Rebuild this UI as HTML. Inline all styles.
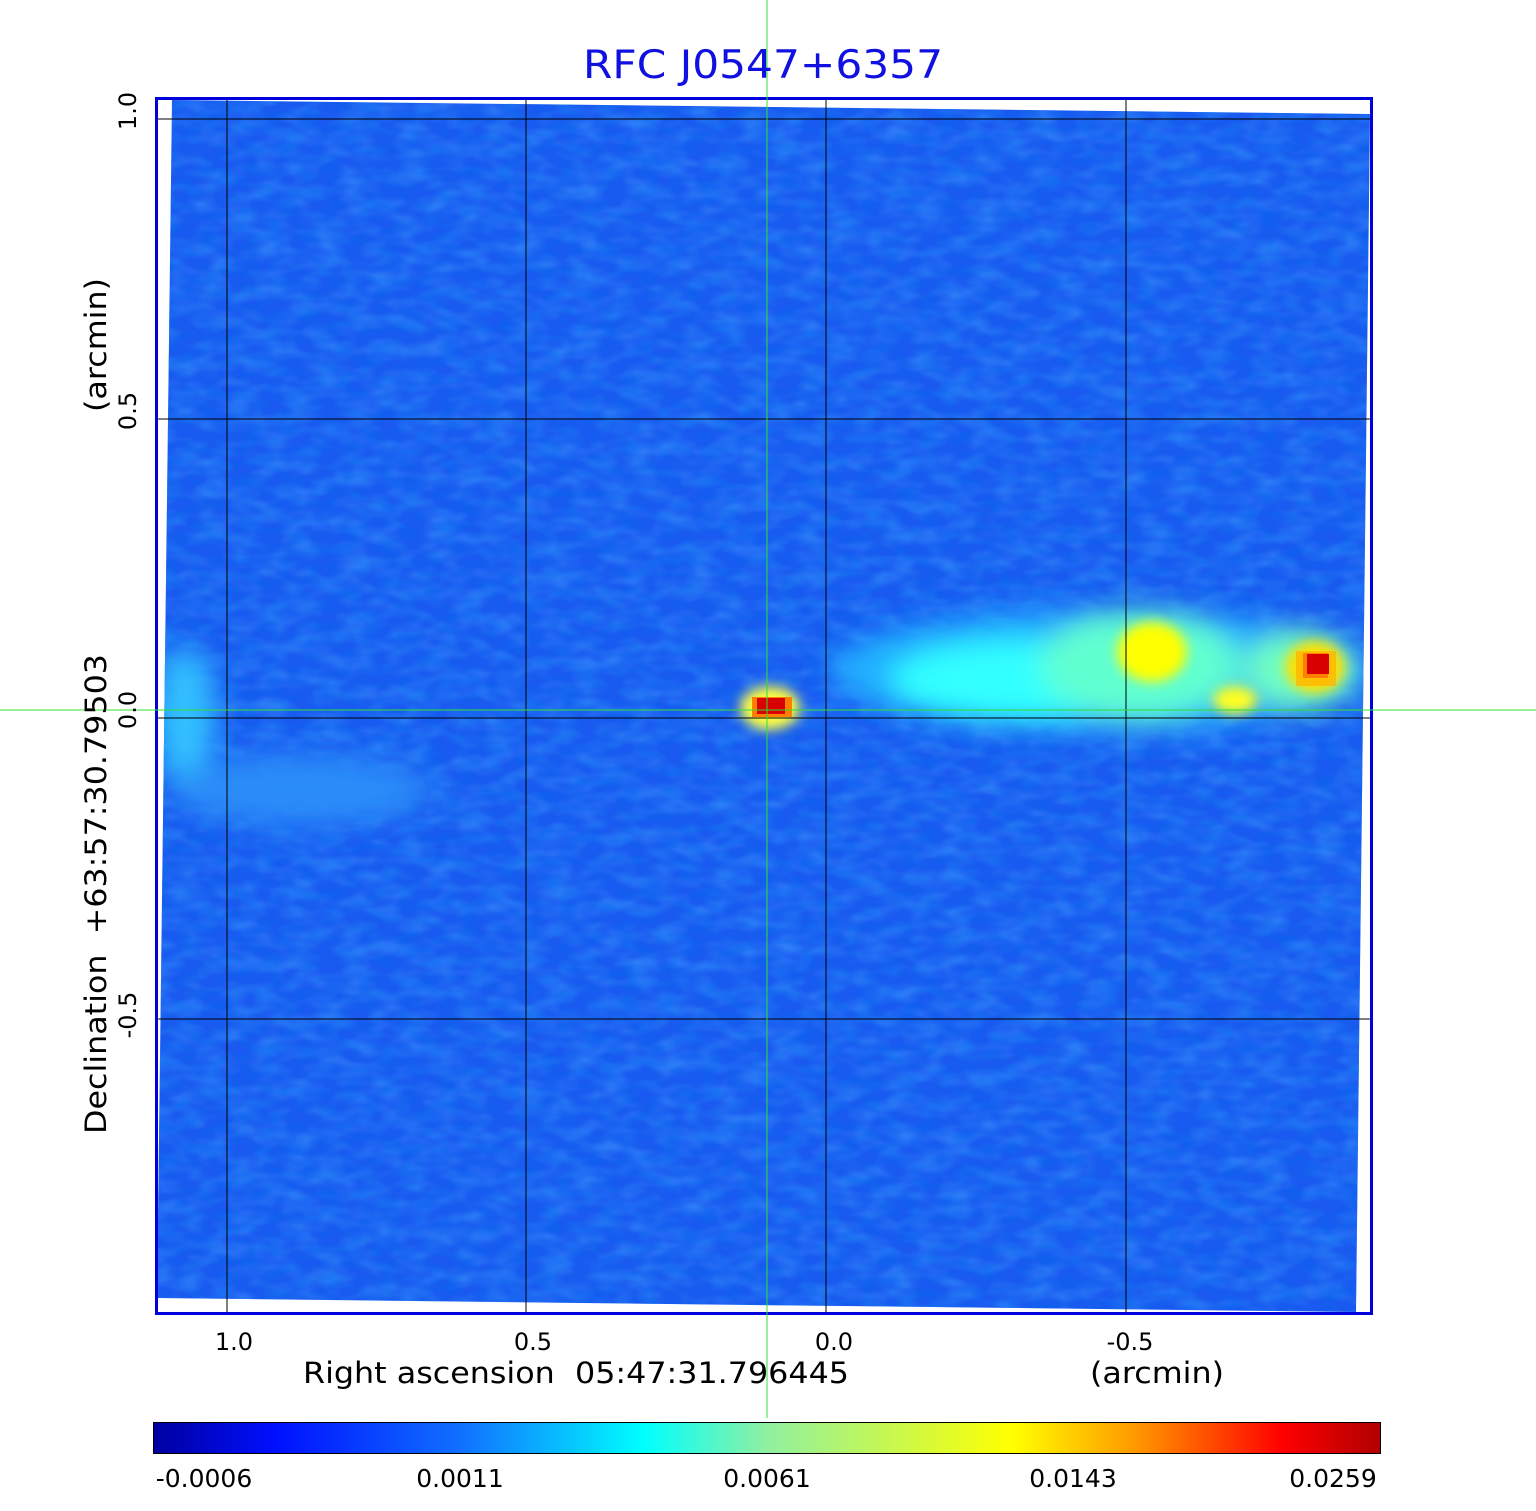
<!DOCTYPE html>
<html><head><style>body{margin:0;background:#fff}svg{display:block}</style></head><body>
<svg width="1536" height="1511" viewBox="0 0 1536 1511" xmlns="http://www.w3.org/2000/svg" font-family="DejaVu Sans, Liberation Sans, sans-serif">
<defs>
<filter id="b" x="-50%" y="-50%" width="200%" height="200%"><feGaussianBlur stdDeviation="14"/></filter>
<filter id="b2" x="-50%" y="-50%" width="200%" height="200%"><feGaussianBlur stdDeviation="6"/></filter>
<filter id="n"><feTurbulence type="fractalNoise" baseFrequency="0.035 0.07" numOctaves="2" seed="3"/><feColorMatrix values="0 0 0 0 0.05  0 0 0 0 0.35  0 0 0 0 1  0 0 0 1.6 -0.55"/></filter>
<filter id="n2"><feTurbulence type="fractalNoise" baseFrequency="0.05 0.09" numOctaves="2" seed="11"/><feColorMatrix values="0 0 0 0 0.0  0 0 0 0 0.15  0 0 0 0 0.85  0 0 0 1.6 -0.6"/></filter>
<clipPath id="c"><polygon points="172,100 1370,114 1356,1312 157,1298"/></clipPath>
<linearGradient id="jet" x1="0" x2="1">
<stop offset="0" stop-color="#0000a0"/><stop offset="0.1" stop-color="#0010ff"/><stop offset="0.25" stop-color="#1070ff"/><stop offset="0.4" stop-color="#00ffff"/><stop offset="0.5" stop-color="#90f0a0"/><stop offset="0.7" stop-color="#ffff00"/><stop offset="0.8" stop-color="#ff9900"/><stop offset="0.92" stop-color="#ff0000"/><stop offset="1" stop-color="#b00000"/></linearGradient>
</defs>
<g clip-path="url(#c)">
<rect x="150" y="95" width="1230" height="1225" fill="#1a5af0"/>
<rect x="150" y="95" width="1230" height="1225" filter="url(#n)" opacity="0.6"/>
<rect x="150" y="95" width="1230" height="1225" filter="url(#n2)" opacity="0.5"/>
<g filter="url(#b)">
<ellipse cx="185" cy="715" rx="30" ry="70" fill="#30c0ff"/>
<ellipse cx="300" cy="790" rx="130" ry="35" fill="#2a8cf8"/>
<ellipse cx="1100" cy="670" rx="270" ry="60" fill="#20b0ff"/>
<ellipse cx="1020" cy="680" rx="130" ry="40" fill="#30ffff"/>
<ellipse cx="1140" cy="665" rx="100" ry="55" fill="#60ffd0"/>
<ellipse cx="1300" cy="670" rx="55" ry="40" fill="#70ffc0"/>
</g>
<g filter="url(#b2)">
<ellipse cx="1152" cy="652" rx="35" ry="30" fill="#ffff00"/>
<ellipse cx="1235" cy="700" rx="22" ry="14" fill="#ffff20"/>
<ellipse cx="1315" cy="667" rx="30" ry="26" fill="#ffe000"/>
<ellipse cx="770" cy="708" rx="30" ry="22" fill="#ffff40"/>
</g>
<rect x="1296" y="651" width="40" height="35" fill="#ffb000" opacity="0.7"/>
<rect x="1303" y="653" width="25" height="25" fill="#ff8000"/>
<rect x="1307" y="654" width="22" height="20" fill="#d80000"/>
<rect x="752" y="697" width="40" height="20" fill="#ff8000"/>
<rect x="757" y="698" width="28" height="16" fill="#d80000"/>
</g>
<g stroke="#000" stroke-width="1">
<line x1="227" y1="98" x2="227" y2="1314"/><line x1="526" y1="98" x2="526" y2="1314"/><line x1="826" y1="98" x2="826" y2="1314"/><line x1="1126" y1="98" x2="1126" y2="1314"/>
<line x1="156" y1="119" x2="1372" y2="119"/><line x1="156" y1="419" x2="1372" y2="419"/><line x1="156" y1="718" x2="1372" y2="718"/><line x1="156" y1="1019" x2="1372" y2="1019"/>
</g>
<rect x="156.5" y="98.5" width="1215" height="1215" fill="none" stroke="#0000dd" stroke-width="3"/>
<line x1="767" y1="0" x2="767" y2="1418" stroke="#30e030" stroke-width="1"/>
<line x1="0" y1="710" x2="1536" y2="710" stroke="#30e030" stroke-width="1"/>
<text x="583" y="78" font-size="39" fill="#1010e0" textLength="360" lengthAdjust="spacingAndGlyphs">RFC J0547+6357</text>
<g font-size="24" fill="#000" text-anchor="middle">
<text x="234" y="1350">1.0</text><text x="533" y="1350">0.5</text><text x="834" y="1350">0.0</text><text x="1130" y="1350">-0.5</text>
<text transform="translate(136,111) rotate(-90)">1.0</text>
<text transform="translate(136,411) rotate(-90)">0.5</text>
<text transform="translate(136,710) rotate(-90)">0.0</text>
<text transform="translate(136,1015) rotate(-90)">-0.5</text>
</g>
<g font-size="29" fill="#000">
<text x="303" y="1383" textLength="546" lengthAdjust="spacingAndGlyphs" xml:space="preserve">Right ascension  05:47:31.796445</text>
<text x="1090" y="1383" textLength="134" lengthAdjust="spacingAndGlyphs">(arcmin)</text>
<text transform="translate(106,1134) rotate(-90)" textLength="480" lengthAdjust="spacingAndGlyphs" xml:space="preserve">Declination  +63:57:30.79503</text>
<text transform="translate(106,412) rotate(-90)" textLength="134" lengthAdjust="spacingAndGlyphs">(arcmin)</text>
</g>
<rect x="153.5" y="1422.5" width="1227" height="31" fill="url(#jet)" stroke="#000" stroke-width="1"/>
<g font-size="25" fill="#000" text-anchor="middle">
<text x="204" y="1487">-0.0006</text><text x="460" y="1487">0.0011</text><text x="767" y="1487">0.0061</text><text x="1073" y="1487">0.0143</text><text x="1333" y="1487">0.0259</text>
</g>
</svg>
</body></html>
